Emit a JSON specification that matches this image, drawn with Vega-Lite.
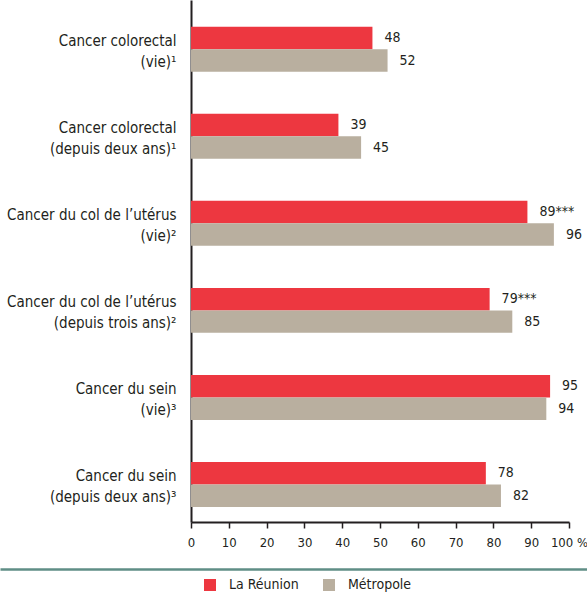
{
  "$schema": "https://vega.github.io/schema/vega-lite/v6.json",
  "autosize": {"type": "none"},
  "padding": {"left": 0, "top": 0, "right": 0, "bottom": 71},
  "width": 587,
  "height": 522,
  "background": "white",
  "config": {
    "font": "DejaVu Sans Condensed, Liberation Sans Narrow, Roboto",
    "view": {"stroke": null},
    "text": {"font": "DejaVu Sans Condensed, Liberation Sans Narrow, Roboto"}
  },
  "layer": [
    {
      "data": {
        "values": [
          {"cat": "Cancer colorectal|(vie)¹", "serie": "La Réunion", "val": 48, "lbl": "48"},
          {"cat": "Cancer colorectal|(vie)¹", "serie": "Métropole", "val": 52, "lbl": "52"},
          {"cat": "Cancer colorectal|(depuis deux ans)¹", "serie": "La Réunion", "val": 39, "lbl": "39"},
          {"cat": "Cancer colorectal|(depuis deux ans)¹", "serie": "Métropole", "val": 45, "lbl": "45"},
          {"cat": "Cancer du col de l’utérus|(vie)²", "serie": "La Réunion", "val": 89, "lbl": "89***"},
          {"cat": "Cancer du col de l’utérus|(vie)²", "serie": "Métropole", "val": 96, "lbl": "96"},
          {"cat": "Cancer du col de l’utérus|(depuis trois ans)²", "serie": "La Réunion", "val": 79, "lbl": "79***"},
          {"cat": "Cancer du col de l’utérus|(depuis trois ans)²", "serie": "Métropole", "val": 85, "lbl": "85"},
          {"cat": "Cancer du sein|(vie)³", "serie": "La Réunion", "val": 95, "lbl": "95"},
          {"cat": "Cancer du sein|(vie)³", "serie": "Métropole", "val": 94, "lbl": "94"},
          {"cat": "Cancer du sein|(depuis deux ans)³", "serie": "La Réunion", "val": 78, "lbl": "78"},
          {"cat": "Cancer du sein|(depuis deux ans)³", "serie": "Métropole", "val": 82, "lbl": "82"}
        ]
      },
      "encoding": {
        "y": {
          "field": "cat",
          "type": "nominal",
          "sort": null,
          "scale": {"paddingInner": 0.483, "paddingOuter": 0.241, "align": 0.64},
          "axis": {
            "title": null,
            "offset": -191,
            "labelExpr": "split(datum.label, '|')",
            "labelFontSize": 15,
            "labelLineHeight": 21,
            "labelOffset": -8,
            "labelColor": "#231f20",
            "labelPadding": 15,
            "labelLimit": 300,
            "ticks": false,
            "domainColor": "#231f20",
            "domainWidth": 2
          }
        },
        "yOffset": {
          "field": "serie",
          "type": "nominal",
          "sort": ["La Réunion", "Métropole"],
          "scale": {"paddingInner": 0, "paddingOuter": 0}
        },
        "x": {
          "field": "val",
          "type": "quantitative",
          "scale": {"domain": [0, 100], "nice": false, "range": [191, 569]},
          "axis": {
            "title": null,
            "orient": "bottom",
            "values": [0, 10, 20, 30, 40, 50, 60, 70, 80, 90, 100],
            "labelExpr": "datum.value == 100 ? '100 %' : datum.label",
            "labelOverlap": false,
            "labelFlush": false,
            "labelFontSize": 13,
            "labelColor": "#231f20",
            "labelPadding": 8,
            "grid": false,
            "tickSize": 6,
            "tickColor": "#231f20",
            "tickWidth": 1.5,
            "domainColor": "#231f20",
            "domainWidth": 2
          }
        }
      },
      "layer": [
        {
          "mark": {"type": "bar"},
          "encoding": {
            "color": {
              "field": "serie",
              "type": "nominal",
              "scale": {"domain": ["La Réunion", "Métropole"], "range": ["#ed3740", "#b9af9f"]},
              "legend": {
                "title": null,
                "orient": "none",
                "direction": "horizontal",
                "legendX": 203,
                "legendY": 578,
                "symbolType": "square",
                "symbolSize": 144,
                "symbolStrokeWidth": 0,
                "labelFontSize": 14,
                "labelColor": "#231f20",
                "labelOffset": 12,
                "columnPadding": 23
              }
            }
          }
        },
        {
          "mark": {"type": "text", "align": "left", "baseline": "middle", "dx": 12, "fontSize": 14, "color": "#231f20"},
          "encoding": {"text": {"field": "lbl", "type": "nominal"}}
        }
      ]
    },
    {
      "data": {"values": [{"a": 1}]},
      "mark": {"type": "point", "opacity": 0},
      "encoding": {
        "x": {
          "datum": 0,
          "type": "quantitative",
          "scale": {"domain": [0, 1]},
          "axis": {
            "orient": "bottom",
            "offset": 47,
            "title": null,
            "labels": false,
            "ticks": false,
            "grid": false,
            "domainColor": "#5f8e86",
            "domainWidth": 2.5
          }
        }
      }
    }
  ],
  "resolve": {"scale": {"x": "independent"}, "axis": {"x": "independent"}}
}
